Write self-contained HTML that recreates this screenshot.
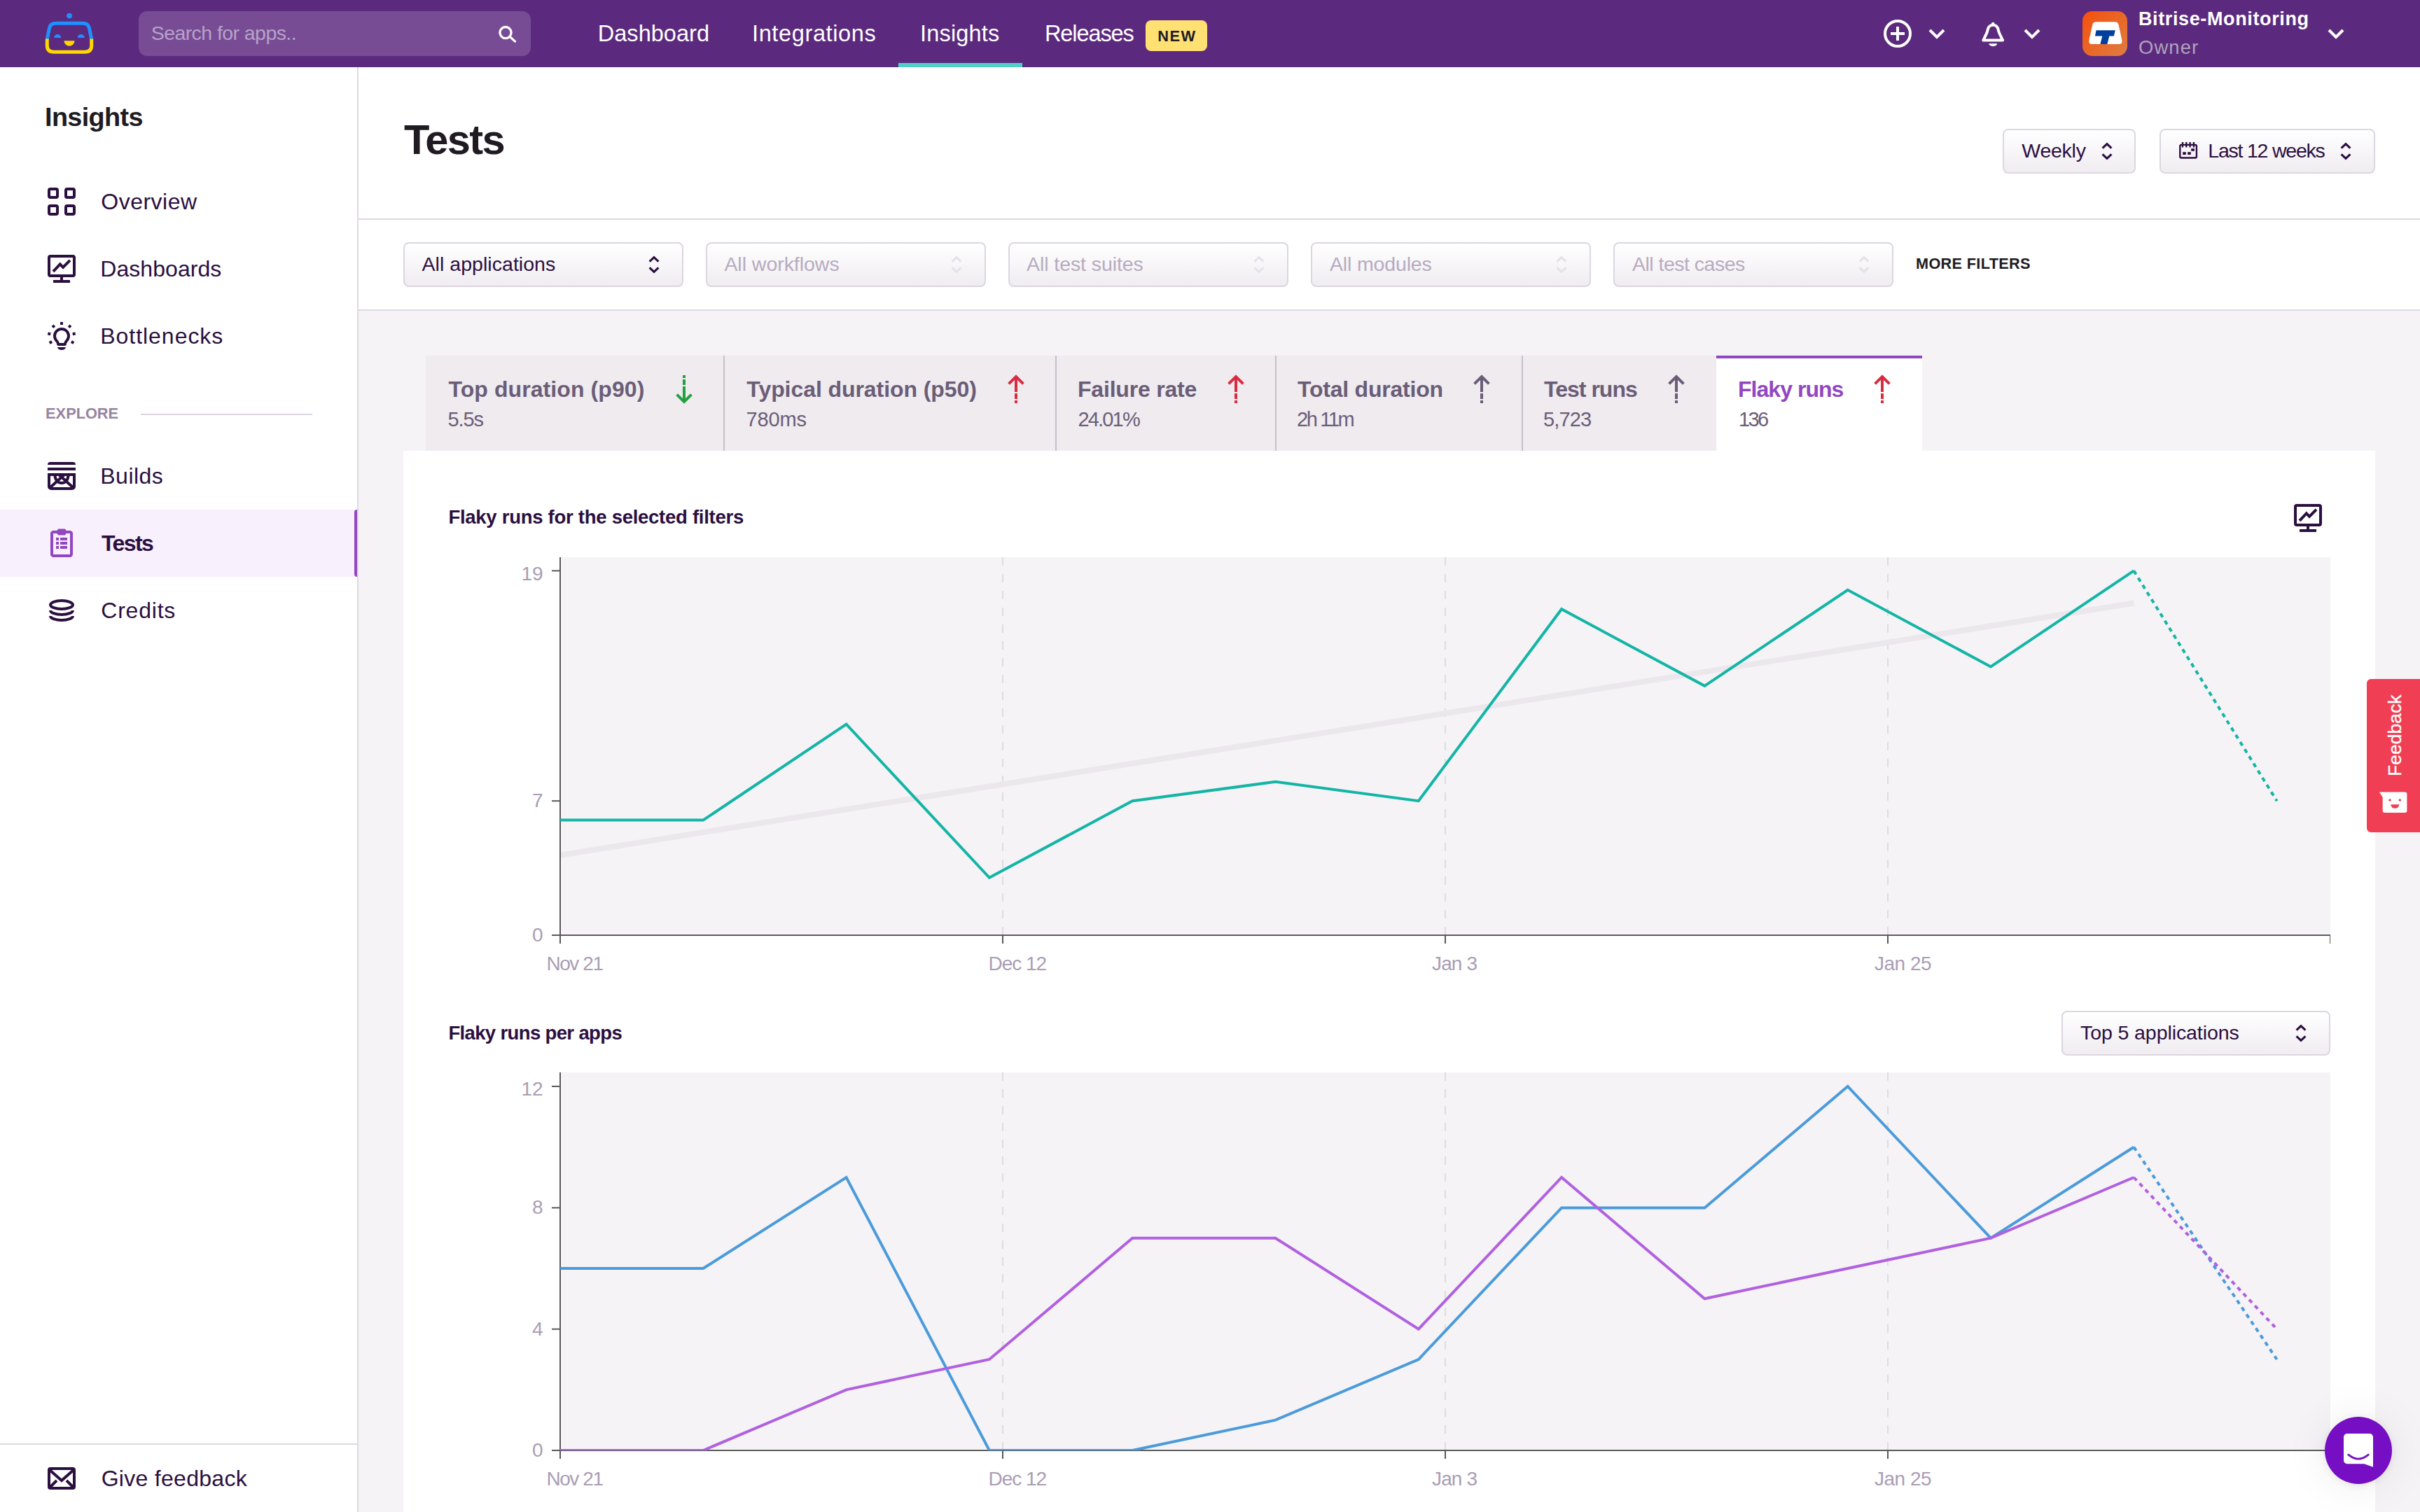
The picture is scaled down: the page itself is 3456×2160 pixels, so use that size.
<!DOCTYPE html>
<html lang="en"><head><meta charset="utf-8"><title>Tests - Insights</title>
<style>
html,body{margin:0;padding:0}
@media (max-width:1800px){html{zoom:.5}}
body{width:3456px;height:2160px;overflow:hidden;position:relative;background:#f5f3f6;font-family:"Liberation Sans", sans-serif}
.abs{position:absolute;display:block}
.t{position:absolute;white-space:nowrap;line-height:1}
.sel{position:absolute;box-sizing:border-box;border:2px solid #dcd6e0;border-radius:8px;background:linear-gradient(#fff,#f0ecf1)}
</style></head><body>
<div class="abs" style="left:0;top:0;width:3456px;height:96px;background:#5b2a7e"></div>
<div class="abs" style="left:0;top:96px;width:510px;height:2064px;background:#fff"></div>
<div class="abs" style="left:510px;top:96px;width:2px;height:2064px;background:#dfd9e3"></div>
<div class="abs" style="left:512px;top:96px;width:2944px;height:346px;background:#fff"></div>
<div class="abs" style="left:512px;top:312px;width:2944px;height:2px;background:#dfd9e3"></div>
<div class="abs" style="left:512px;top:442px;width:2944px;height:2px;background:#dfd9e3"></div>
<div class="abs" style="left:198px;top:16px;width:560px;height:64px;border-radius:12px;background:#774c95"></div>
<svg class="abs" style="left:700px;top:26px" width="48" height="44" viewBox="0 0 48 44" fill="none" stroke="#fff" stroke-width="3.300" stroke-linecap="round"><circle cx="22" cy="20.600" r="8.100"/><path d="M28 26.300l7.500 6.800"/></svg>
<svg class="abs" style="left:56px;top:12px" width="88" height="72" viewBox="56 12 88 72" fill="none">
<circle cx="99" cy="22.600" r="3.850" fill="#1e90ff"/>
<path d="M67.300 56 L70.400 40.500 Q71.800 33.300 80 33.300 H118 Q126.200 33.300 127.600 40.500 L130.700 56" stroke="#1e90ff" stroke-width="5"/>
<path d="M67.300 55.500 L67.300 65 Q67.300 74.300 77 74.300 H121 Q130.700 74.300 130.700 65 L130.700 55.500" stroke="#ffd700" stroke-width="5"/>
<path d="M77.200 54 a5 5 0 0 1 10 0z" fill="#1e90ff"/><path d="M110.800 54 a5 5 0 0 1 10 0z" fill="#1e90ff"/>
<path d="M91.500 58.300 h15 a7.500 7.500 0 0 1 -15 0z" fill="#ffd700"/>
</svg>
<div class="abs" style="left:1283px;top:90px;width:177px;height:6px;background:#52cfc4"></div>
<div class="abs" style="left:1636px;top:29px;width:88px;height:44px;border-radius:8px;background:#ffe073"></div>
<svg class="abs" style="left:2686px;top:24px" width="48" height="48" viewBox="0 0 48 48" fill="none" stroke="#fff" stroke-width="4"><circle cx="24" cy="24" r="18"/><path d="M24 14v20M14 24h20"/></svg>
<svg class="abs" style="left:2750px;top:36.3px" width="32" height="24" viewBox="0 0 32 24" fill="none" stroke="#fff" stroke-width="4"><path d="M6 7l10 10l10-10"/></svg>
<svg class="abs" style="left:2886px;top:36.3px" width="32" height="24" viewBox="0 0 32 24" fill="none" stroke="#fff" stroke-width="4"><path d="M6 7l10 10l10-10"/></svg>
<svg class="abs" style="left:3320px;top:36.3px" width="32" height="24" viewBox="0 0 32 24" fill="none" stroke="#fff" stroke-width="4"><path d="M6 7l10 10l10-10"/></svg>
<svg class="abs" style="left:2822px;top:26px" width="48" height="46" viewBox="2822 26 48 46" fill="none" stroke="#fff" stroke-width="4" stroke-linejoin="round"><path d="M2832.300 57.600H2860.100L2855.500 48C2854 45 2854 43.500 2853.500 41.500A7.500 7.500 0 0 0 2838.900 41.500C2838.400 43.500 2838.400 45 2836.900 48Z"/><circle cx="2846.200" cy="34" r="2.300" fill="#fff" stroke="none"/><path d="M2840.300 62.300h11.900a5.950 3.900 0 0 1-11.900 0z" fill="#fff" stroke="none"/></svg>
<svg class="abs" style="left:2974px;top:16px" width="64" height="64" viewBox="0 0 64 64">
<defs><linearGradient id="ag" x1="0" y1="0" x2="1" y2="1"><stop offset="0" stop-color="#f5500b"/><stop offset="1" stop-color="#de7d42"/></linearGradient></defs>
<rect width="64" height="64" rx="14" fill="url(#ag)"/>
<path d="M19.500 15.300H46.200Q50.700 15.300 51.600 19.500L56.400 41.500Q57.300 47 52 47H13.800Q8.500 47 9.400 41.500L14.200 19.500Q15.100 15.300 19.500 15.300z" fill="#fff"/>
<path d="M19.600 27.200H46.800L44.800 35.600H38.300L35.400 47H25.400L28.300 35.600H18z" fill="#003f9e"/>
</svg>
<div class="abs" style="left:0;top:728px;width:510px;height:96px;background:#f8f0fd"></div>
<div class="abs" style="left:506px;top:728px;width:4px;height:96px;background:#9247c2;border-radius:4px 0 0 4px"></div>
<div class="abs" style="left:201px;top:591px;width:245px;height:2px;background:#dcd4e0"></div>
<div class="abs" style="left:0;top:2062px;width:510px;height:2px;background:#dfd9e3"></div>
<svg class="abs" style="left:64px;top:264px" width="48" height="48" viewBox="0 0 24 24" fill="none" stroke="#2b0f40" stroke-width="2"><rect x="3" y="3" width="6" height="6" rx="1"/><rect x="15" y="3" width="6" height="6" rx="1"/><rect x="3" y="15" width="6" height="6" rx="1"/><rect x="15" y="15" width="6" height="6" rx="1"/></svg>
<svg class="abs" style="left:64px;top:360px" width="48" height="48" viewBox="0 0 24 24" fill="none" stroke="#2b0f40" stroke-width="2"><rect x="3" y="3" width="18" height="14" rx="1"/><path d="M12 18v3M6 21h12"/><path d="M6 13.900L10.900 8.700l2.100 2.200l5-5"/></svg>
<svg class="abs" style="left:64px;top:456px" width="48" height="48" viewBox="0 0 24 24" fill="none" stroke="#2b0f40" stroke-width="2"><rect x="11" y="2" width="2" height="2" transform="rotate(0 12 12)" fill="#2b0f40" stroke="none"/><rect x="11" y="2" width="2" height="2" transform="rotate(40 12 12)" fill="#2b0f40" stroke="none"/><rect x="11" y="2" width="2" height="2" transform="rotate(80 12 12)" fill="#2b0f40" stroke="none"/><rect x="11" y="2" width="2" height="2" transform="rotate(120 12 12)" fill="#2b0f40" stroke="none"/><rect x="11" y="2" width="2" height="2" transform="rotate(-40 12 12)" fill="#2b0f40" stroke="none"/><rect x="11" y="2" width="2" height="2" transform="rotate(-80 12 12)" fill="#2b0f40" stroke="none"/><rect x="11" y="2" width="2" height="2" transform="rotate(-120 12 12)" fill="#2b0f40" stroke="none"/><path d="M9.6 18H14.4C14.4 16.400 15.100 15.900 15.900 15.100A5 5 0 1 0 8.100 15.100C8.900 15.900 9.600 16.400 9.600 18Z" stroke-linejoin="round"/><path d="M9 20h6a3 2 0 0 1-6 0z" fill="#2b0f40" stroke="none"/></svg>
<svg class="abs" style="left:64px;top:656px" width="48" height="48" viewBox="0 0 24 24" fill="none" stroke="#2b0f40" stroke-width="2"><path d="M2 4a2 2 0 0 1 2-2h16a2 2 0 0 1 2 2z" fill="#2b0f40" stroke="none"/><rect x="2" y="6" width="20" height="2" fill="#2b0f40" stroke="none"/><path d="M3 11h18v8.5a1.5 1.5 0 0 1-1.5 1.5h-15a1.5 1.5 0 0 1-1.5-1.5z"/><path d="M3.5 20.5L14 11M20.5 20.5L10 11M7.2 11c0 3.600 2 6 4.800 6s4.800-2.400 4.800-6"/></svg>
<svg class="abs" style="left:64px;top:752px" width="48" height="48" viewBox="0 0 24 24" fill="none" stroke="#9247c2" stroke-width="2"><rect x="5" y="4" width="14" height="17" rx="1.100"/><path d="M9.700 2h4.600l1.400 2l-1.400 2h-4.600l-1.400-2z" stroke="#9247c2" stroke-width="0.600" stroke-linejoin="round" fill="#9247c2"/><g fill="#9247c2" stroke="none"><rect x="8" y="8" width="2" height="2"/><rect x="11" y="8" width="5" height="2"/><rect x="8" y="11" width="2" height="2"/><rect x="11" y="11" width="5" height="2"/><rect x="8" y="14" width="2" height="2"/><rect x="11" y="14" width="5" height="2"/></g></svg>
<svg class="abs" style="left:64px;top:848px" width="48" height="48" viewBox="0 0 24 24" fill="none" stroke="#2b0f40" stroke-width="2"><ellipse cx="12" cy="8" rx="8" ry="3"/><path d="M4 12a8 3 0 0 0 16 0M4 16a8 3 0 0 0 16 0"/></svg>
<svg class="abs" style="left:64px;top:2088px" width="48" height="48" viewBox="0 0 24 24" fill="none" stroke="#2b0f40" stroke-width="2"><rect x="3" y="5" width="18" height="14" rx="1"/><path d="M3.500 6l8.500 7.500l8.500-7.500M3.500 18.500l5-5M20.500 18.500l-5-5"/></svg>
<div class="sel" style="left:2860px;top:184px;width:190px;height:64px"></div>
<svg class="abs" style="left:2997px;top:200px" width="24" height="32" viewBox="0 0 24 32" fill="none" stroke="#2b0f40" stroke-width="3.100"><path d="M5.600 11.700L12 5.700l6.400 6M5.600 20.300L12 26.300l6.400-6"/></svg>
<div class="sel" style="left:3084px;top:184px;width:308px;height:64px"></div>
<svg class="abs" style="left:3338px;top:200px" width="24" height="32" viewBox="0 0 24 32" fill="none" stroke="#2b0f40" stroke-width="3.100"><path d="M5.600 11.700L12 5.700l6.400 6M5.600 20.300L12 26.300l6.400-6"/></svg>
<svg class="abs" style="left:3108px;top:198px" width="34" height="32" viewBox="3108 198 34 32" fill="none" stroke="#2b0f40">
<rect x="3113.300" y="206.900" width="23.600" height="18.600" rx="2" stroke-width="2.400"/><path d="M3117 203v7.600M3122.300 203v7.600M3127.600 203v7.600M3132.900 203v7.600" stroke-width="2.400"/>
<g fill="#2b0f40" stroke="none"><rect x="3129.200" y="212.200" width="4.700" height="3.600"/><rect x="3117.200" y="217.200" width="4.600" height="3.800"/><rect x="3124.200" y="217.200" width="4.600" height="3.800"/></g></svg>
<div class="sel" style="left:576px;top:346px;width:400px;height:64px"></div>
<svg class="abs" style="left:922px;top:362px" width="24" height="32" viewBox="0 0 24 32" fill="none" stroke="#2b0f40" stroke-width="3.100"><path d="M5.600 11.700L12 5.700l6.400 6M5.600 20.300L12 26.300l6.400-6"/></svg>
<div class="sel" style="left:1008px;top:346px;width:400px;height:64px"></div>
<svg class="abs" style="left:1354px;top:362px" width="24" height="32" viewBox="0 0 24 32" fill="none" stroke="#e6e1e9" stroke-width="3.100"><path d="M5.600 11.700L12 5.700l6.400 6M5.600 20.300L12 26.300l6.400-6"/></svg>
<div class="sel" style="left:1440px;top:346px;width:400px;height:64px"></div>
<svg class="abs" style="left:1786px;top:362px" width="24" height="32" viewBox="0 0 24 32" fill="none" stroke="#e6e1e9" stroke-width="3.100"><path d="M5.600 11.700L12 5.700l6.400 6M5.600 20.300L12 26.300l6.400-6"/></svg>
<div class="sel" style="left:1872px;top:346px;width:400px;height:64px"></div>
<svg class="abs" style="left:2218px;top:362px" width="24" height="32" viewBox="0 0 24 32" fill="none" stroke="#e6e1e9" stroke-width="3.100"><path d="M5.600 11.700L12 5.700l6.400 6M5.600 20.300L12 26.300l6.400-6"/></svg>
<div class="sel" style="left:2304px;top:346px;width:400px;height:64px"></div>
<svg class="abs" style="left:2650px;top:362px" width="24" height="32" viewBox="0 0 24 32" fill="none" stroke="#e6e1e9" stroke-width="3.100"><path d="M5.600 11.700L12 5.700l6.400 6M5.600 20.300L12 26.300l6.400-6"/></svg>
<div class="abs" style="left:608px;top:508px;width:1843px;height:136px;background:#efebef"></div>
<div class="abs" style="left:1033px;top:508px;width:2px;height:136px;background:#c7c0cd"></div>
<div class="abs" style="left:1507px;top:508px;width:2px;height:136px;background:#c7c0cd"></div>
<div class="abs" style="left:1821px;top:508px;width:2px;height:136px;background:#c7c0cd"></div>
<div class="abs" style="left:2173px;top:508px;width:2px;height:136px;background:#c7c0cd"></div>
<div class="abs" style="left:2451px;top:508px;width:294px;height:136px;background:#fff"></div>
<div class="abs" style="left:2451px;top:508px;width:294px;height:4px;background:#9247c2"></div>
<svg class="abs" style="left:953px;top:532px;" width="48" height="48" viewBox="0 0 24 24" fill="none" stroke="#23a040" stroke-width="2"><path d="M12 2v2M12 5v4M12 10v11M6.800 15.800L12 21l5.200-5.200" stroke-linejoin="miter"/></svg>
<svg class="abs" style="left:1427px;top:532px;transform:scaleY(-1);" width="48" height="48" viewBox="0 0 24 24" fill="none" stroke="#d82d41" stroke-width="2"><path d="M12 2v2M12 5v4M12 10v11M6.800 15.800L12 21l5.200-5.200" stroke-linejoin="miter"/></svg>
<svg class="abs" style="left:1741px;top:532px;transform:scaleY(-1);" width="48" height="48" viewBox="0 0 24 24" fill="none" stroke="#d82d41" stroke-width="2"><path d="M12 2v2M12 5v4M12 10v11M6.800 15.800L12 21l5.200-5.200" stroke-linejoin="miter"/></svg>
<svg class="abs" style="left:2092px;top:532px;transform:scaleY(-1);" width="48" height="48" viewBox="0 0 24 24" fill="none" stroke="#6b5d78" stroke-width="2"><path d="M12 2v2M12 5v4M12 10v11M6.800 15.800L12 21l5.200-5.200" stroke-linejoin="miter"/></svg>
<svg class="abs" style="left:2370px;top:532px;transform:scaleY(-1);" width="48" height="48" viewBox="0 0 24 24" fill="none" stroke="#6b5d78" stroke-width="2"><path d="M12 2v2M12 5v4M12 10v11M6.800 15.800L12 21l5.200-5.200" stroke-linejoin="miter"/></svg>
<svg class="abs" style="left:2664px;top:532px;transform:scaleY(-1);" width="48" height="48" viewBox="0 0 24 24" fill="none" stroke="#d82d41" stroke-width="2"><path d="M12 2v2M12 5v4M12 10v11M6.800 15.800L12 21l5.200-5.200" stroke-linejoin="miter"/></svg>
<div class="abs" style="left:576px;top:644px;width:2816px;height:1516px;background:#fff"></div>
<svg class="abs" style="left:0;top:0" width="3456" height="2160" viewBox="0 0 3456 2160">
<clipPath id="c1"><rect x="800" y="796" width="2528" height="540"/></clipPath>
<rect x="801.500" y="796" width="2526.500" height="538.300" fill="#f5f3f6"/>
<line x1="1432" y1="796" x2="1432" y2="1336" stroke="#dddcde" stroke-width="2" stroke-dasharray="12 12"/>
<line x1="2064" y1="796" x2="2064" y2="1336" stroke="#dddcde" stroke-width="2" stroke-dasharray="12 12"/>
<line x1="2696" y1="796" x2="2696" y2="1336" stroke="#dddcde" stroke-width="2" stroke-dasharray="12 12"/>
<line x1="800" y1="1221.7" x2="3047.5" y2="861.5" stroke="#ebe7ec" stroke-width="8"/>
<path d="M800 796V1348M788 1336H3328" fill="none" stroke="#595959" stroke-width="2"/>
<path d="M3327.500 1336v12" fill="none" stroke="#595959" stroke-width="1"/>
<line x1="1432" y1="1336" x2="1432" y2="1348" stroke="#595959" stroke-width="2"/>
<line x1="2064" y1="1336" x2="2064" y2="1348" stroke="#595959" stroke-width="2"/>
<line x1="2696" y1="1336" x2="2696" y2="1348" stroke="#595959" stroke-width="2"/>
<line x1="788" y1="815.4" x2="800" y2="815.4" stroke="#595959" stroke-width="2"/>
<line x1="788" y1="1144.2" x2="800" y2="1144.2" stroke="#595959" stroke-width="2"/>
<g clip-path="url(#c1)">
<polyline points="800.0,1171.6 1004.3,1171.6 1208.6,1034.6 1412.9,1253.8 1617.2,1144.2 1821.5,1116.8 2025.8,1144.2 2230.1,870.2 2434.4,979.8 2638.7,842.8 2843.0,952.4 3047.3,815.4" fill="none" stroke="#14b5a6" stroke-width="4" stroke-linejoin="miter"/>
<line x1="3047.3" y1="815.4" x2="3251.6" y2="1144.2" stroke="#14b5a6" stroke-width="4" stroke-dasharray="6 6"/>
</g>
<clipPath id="c2"><rect x="800" y="1532" width="2528" height="540"/></clipPath>
<rect x="801.500" y="1532" width="2526.500" height="538.300" fill="#f5f3f6"/>
<line x1="1432" y1="1532" x2="1432" y2="2072" stroke="#dddcde" stroke-width="2" stroke-dasharray="12 12"/>
<line x1="2064" y1="1532" x2="2064" y2="2072" stroke="#dddcde" stroke-width="2" stroke-dasharray="12 12"/>
<line x1="2696" y1="1532" x2="2696" y2="2072" stroke="#dddcde" stroke-width="2" stroke-dasharray="12 12"/>
<path d="M800 1532V2084M788 2072H3328" fill="none" stroke="#595959" stroke-width="2"/>
<path d="M3327.500 2072v12" fill="none" stroke="#595959" stroke-width="1"/>
<line x1="1432" y1="2072" x2="1432" y2="2084" stroke="#595959" stroke-width="2"/>
<line x1="2064" y1="2072" x2="2064" y2="2084" stroke="#595959" stroke-width="2"/>
<line x1="2696" y1="2072" x2="2696" y2="2084" stroke="#595959" stroke-width="2"/>
<line x1="788" y1="1552.0" x2="800" y2="1552.0" stroke="#595959" stroke-width="2"/>
<line x1="788" y1="1725.4" x2="800" y2="1725.4" stroke="#595959" stroke-width="2"/>
<line x1="788" y1="1898.7" x2="800" y2="1898.7" stroke="#595959" stroke-width="2"/>
<g clip-path="url(#c2)">
<polyline points="800.0,1812.0 1004.3,1812.0 1208.6,1682.0 1412.9,2072.0 1617.2,2072.0 1821.5,2028.7 2025.8,1942.0 2230.1,1725.4 2434.4,1725.4 2638.7,1552.0 2843.0,1768.7 3047.3,1638.7" fill="none" stroke="#4b9bdb" stroke-width="4" stroke-linejoin="miter"/>
<line x1="3047.3" y1="1638.7" x2="3251.6" y2="1942.0" stroke="#4b9bdb" stroke-width="4" stroke-dasharray="6 6"/>
<polyline points="800.0,2072.0 1004.3,2072.0 1208.6,1985.3 1412.9,1942.0 1617.2,1768.7 1821.5,1768.7 2025.8,1898.7 2230.1,1682.0 2434.4,1855.3 2638.7,1812.0 2843.0,1768.7 3047.3,1682.0" fill="none" stroke="#b160e0" stroke-width="4" stroke-linejoin="miter"/>
<line x1="3047.3" y1="1682.0" x2="3251.6" y2="1898.7" stroke="#b160e0" stroke-width="4" stroke-dasharray="6 6"/>
</g>
</svg>
<svg class="abs" style="left:3272px;top:716px" width="48" height="48" viewBox="0 0 24 24" fill="none" stroke="#2b0f40" stroke-width="2"><rect x="3" y="3" width="18" height="14" rx="1"/><path d="M12 18v3M6 21h12"/><path d="M6 13.900L10.900 8.700l2.100 2.200l5-5"/></svg>
<div class="sel" style="left:2944px;top:1444px;width:384px;height:64px"></div>
<svg class="abs" style="left:3274px;top:1460px" width="24" height="32" viewBox="0 0 24 32" fill="none" stroke="#2b0f40" stroke-width="3.100"><path d="M5.600 11.700L12 5.700l6.400 6M5.600 20.300L12 26.300l6.400-6"/></svg>
<div class="abs" style="left:3380px;top:970px;width:76px;height:219px;background:#f03f54;border-radius:6px 0 0 6px"></div>
<div class="abs" style="left:3380px;top:970px;width:76px;height:219px"><div style="position:absolute;left:49.200px;top:139px;transform-origin:0 0;transform:rotate(-90deg);font-size:26.500px;line-height:1;color:#fff;white-space:nowrap;-webkit-text-stroke:0.350px #fff"><span style="position:relative;top:-22.400px">Feedback</span></div></div>
<svg class="abs" style="left:3396px;top:1128px" width="44" height="36" viewBox="3396 1128 44 36"><path d="M3398 1131.600H3434.400a3 3 0 0 1 3 3V1158a3 3 0 0 1-3 3H3405.700a3 3 0 0 1-3-3V1139z" fill="#fff"/>
<circle cx="3413" cy="1143" r="1.800" fill="#f03f54"/><circle cx="3427.300" cy="1143" r="1.800" fill="#f03f54"/><path d="M3414.200 1149.300h12.100a6.050 5.500 0 0 1-12.100 0z" fill="#f03f54"/></svg>
<div class="abs" style="left:3320px;top:2024px;width:96px;height:96px;border-radius:50%;background:#760fc3;box-shadow:0 2px 12px rgba(0,0,0,.08),0 2px 64px rgba(0,0,0,.08)"></div>
<svg class="abs" style="left:3340px;top:2040px" width="60" height="64" viewBox="3340 2040 60 64"><path d="M3352 2048H3384a5 5 0 0 1 5 5V2095.800L3376.400 2091.200H3352a5 5 0 0 1-5-5V2053a5 5 0 0 1 5-5z" fill="#fff"/>
<path d="M3353.700 2078.200Q3368 2090 3382.300 2078.200" fill="none" stroke="#760fc3" stroke-width="2.800" stroke-linecap="round"/></svg>
<div class="t" style="left:215.70px;top:33.37px;font-size:28.5px;color:#b7a2c7;letter-spacing:-0.570px;">Search for apps..</div>
<div class="t" style="left:853.70px;top:31.89px;font-size:32.5px;color:#fff;letter-spacing:0.048px;">Dashboard</div>
<div class="t" style="left:1074.00px;top:31.89px;font-size:32.5px;color:#fff;letter-spacing:0.629px;">Integrations</div>
<div class="t" style="left:1314.00px;top:31.89px;font-size:32.5px;color:#fff;letter-spacing:0.178px;">Insights</div>
<div class="t" style="left:1492.00px;top:31.89px;font-size:32.5px;color:#fff;letter-spacing:-1.106px;">Releases</div>
<div class="t" style="left:1653.20px;top:40.55px;font-size:21.8px;color:#201b22;font-weight:700;letter-spacing:1.460px;">NEW</div>
<div class="t" style="left:3054.00px;top:14.14px;font-size:27px;color:#fff;font-weight:700;letter-spacing:0.618px;">Bitrise-Monitoring</div>
<div class="t" style="left:3054.00px;top:53.91px;font-size:27.4px;color:#b0a3bb;letter-spacing:1.112px;">Owner</div>
<div class="t" style="left:64.00px;top:148.80px;font-size:37.8px;color:#201b22;font-weight:700;letter-spacing:-0.625px;">Insights</div>
<div class="t" style="left:144.30px;top:272.31px;font-size:32px;color:#2b0f40;letter-spacing:0.493px;">Overview</div>
<div class="t" style="left:143.30px;top:368.31px;font-size:32px;color:#2b0f40;letter-spacing:0.050px;">Dashboards</div>
<div class="t" style="left:143.30px;top:464.31px;font-size:32px;color:#2b0f40;letter-spacing:0.958px;">Bottlenecks</div>
<div class="t" style="left:65.10px;top:580.45px;font-size:21.8px;color:#96859f;font-weight:700;letter-spacing:-0.021px;">EXPLORE</div>
<div class="t" style="left:143.30px;top:664.31px;font-size:32px;color:#2b0f40;letter-spacing:0.469px;">Builds</div>
<div class="t" style="left:145.00px;top:760.31px;font-size:32px;color:#2b0f40;font-weight:700;letter-spacing:-1.605px;">Tests</div>
<div class="t" style="left:144.30px;top:856.31px;font-size:32px;color:#2b0f40;letter-spacing:0.773px;">Credits</div>
<div class="t" style="left:144.70px;top:2096.21px;font-size:32px;color:#2b0f40;letter-spacing:0.286px;">Give feedback</div>
<div class="t" style="left:577.00px;top:170.15px;font-size:59.6px;color:#201b22;font-weight:700;letter-spacing:-1.678px;">Tests</div>
<div class="t" style="left:2887.30px;top:200.67px;font-size:28.5px;color:#2b0f40;letter-spacing:-0.253px;">Weekly</div>
<div class="t" style="left:3153.30px;top:200.67px;font-size:28.5px;color:#2b0f40;letter-spacing:-1.220px;">Last 12 weeks</div>
<div class="t" style="left:602.50px;top:362.87px;font-size:28.5px;color:#2b0f40;letter-spacing:0.043px;">All applications</div>
<div class="t" style="left:1034.40px;top:362.87px;font-size:28.5px;color:#b6abbf;letter-spacing:-0.037px;">All workflows</div>
<div class="t" style="left:1466.00px;top:362.87px;font-size:28.5px;color:#b6abbf;letter-spacing:-0.075px;">All test suites</div>
<div class="t" style="left:1899.00px;top:362.87px;font-size:28.5px;color:#b6abbf;letter-spacing:-0.156px;">All modules</div>
<div class="t" style="left:2331.00px;top:362.87px;font-size:28.5px;color:#b6abbf;letter-spacing:-0.511px;">All test cases</div>
<div class="t" style="left:2736.00px;top:366.33px;font-size:21.7px;color:#201b22;font-weight:700;letter-spacing:0.330px;">MORE FILTERS</div>
<div class="t" style="left:640.40px;top:540.21px;font-size:32px;color:#6b5d78;font-weight:700;letter-spacing:0.087px;">Top duration (p90)</div>
<div class="t" style="left:639.60px;top:585.05px;font-size:29px;color:#6b5d78;letter-spacing:-1.105px;">5.5s</div>
<div class="t" style="left:1066.30px;top:540.21px;font-size:32px;color:#6b5d78;font-weight:700;letter-spacing:-0.069px;">Typical duration (p50)</div>
<div class="t" style="left:1065.50px;top:585.05px;font-size:29px;color:#6b5d78;letter-spacing:-0.136px;">780ms</div>
<div class="t" style="left:1539.00px;top:540.21px;font-size:32px;color:#6b5d78;font-weight:700;letter-spacing:-0.202px;">Failure rate</div>
<div class="t" style="left:1539.50px;top:585.05px;font-size:29px;color:#6b5d78;letter-spacing:-1.834px;">24.01%</div>
<div class="t" style="left:1853.00px;top:540.21px;font-size:32px;color:#6b5d78;font-weight:700;letter-spacing:-0.222px;">Total duration</div>
<div class="t" style="left:1852.00px;top:585.05px;font-size:29px;color:#6b5d78;letter-spacing:-2.384px;">2h 11m</div>
<div class="t" style="left:2205.00px;top:540.21px;font-size:32px;color:#6b5d78;font-weight:700;letter-spacing:-0.982px;">Test runs</div>
<div class="t" style="left:2204.00px;top:585.05px;font-size:29px;color:#6b5d78;letter-spacing:-0.861px;">5,723</div>
<div class="t" style="left:2482.00px;top:540.21px;font-size:32px;color:#9247c2;font-weight:700;letter-spacing:-0.963px;">Flaky runs</div>
<div class="t" style="left:2483.00px;top:585.05px;font-size:29px;color:#6b5d78;letter-spacing:-2.628px;">136</div>
<div class="t" style="left:640.40px;top:725.32px;font-size:27.5px;color:#2b0f40;font-weight:700;letter-spacing:-0.270px;">Flaky runs for the selected filters</div>
<div class="t" style="left:640.40px;top:1461.52px;font-size:27.5px;color:#2b0f40;font-weight:700;letter-spacing:-0.640px;">Flaky runs per apps</div>
<div class="t" style="left:2971.00px;top:1461.07px;font-size:28.5px;color:#2b0f40;letter-spacing:-0.088px;">Top 5 applications</div>
<div class="t" style="left:744.43px;top:806.00px;font-size:28px;color:#aa9db5;">19</div>
<div class="t" style="left:760.00px;top:1130.00px;font-size:28px;color:#aa9db5;">7</div>
<div class="t" style="left:760.00px;top:1322.00px;font-size:28px;color:#aa9db5;">0</div>
<div class="t" style="left:780.40px;top:1363.30px;font-size:28px;color:#aa9db5;letter-spacing:-1.429px;">Nov 21</div>
<div class="t" style="left:1411.50px;top:1363.30px;font-size:28px;color:#aa9db5;letter-spacing:-1.029px;">Dec 12</div>
<div class="t" style="left:2045.00px;top:1363.30px;font-size:28px;color:#aa9db5;letter-spacing:-0.856px;">Jan 3</div>
<div class="t" style="left:2677.00px;top:1363.30px;font-size:28px;color:#aa9db5;letter-spacing:-0.499px;">Jan 25</div>
<div class="t" style="left:744.43px;top:1542.00px;font-size:28px;color:#aa9db5;">12</div>
<div class="t" style="left:760.00px;top:1711.36px;font-size:28px;color:#aa9db5;">8</div>
<div class="t" style="left:760.00px;top:1884.68px;font-size:28px;color:#aa9db5;">4</div>
<div class="t" style="left:760.00px;top:2058.00px;font-size:28px;color:#aa9db5;">0</div>
<div class="t" style="left:780.40px;top:2099.30px;font-size:28px;color:#aa9db5;letter-spacing:-1.429px;">Nov 21</div>
<div class="t" style="left:1411.50px;top:2099.30px;font-size:28px;color:#aa9db5;letter-spacing:-1.029px;">Dec 12</div>
<div class="t" style="left:2045.00px;top:2099.30px;font-size:28px;color:#aa9db5;letter-spacing:-0.856px;">Jan 3</div>
<div class="t" style="left:2677.00px;top:2099.30px;font-size:28px;color:#aa9db5;letter-spacing:-0.499px;">Jan 25</div>
</body></html>
